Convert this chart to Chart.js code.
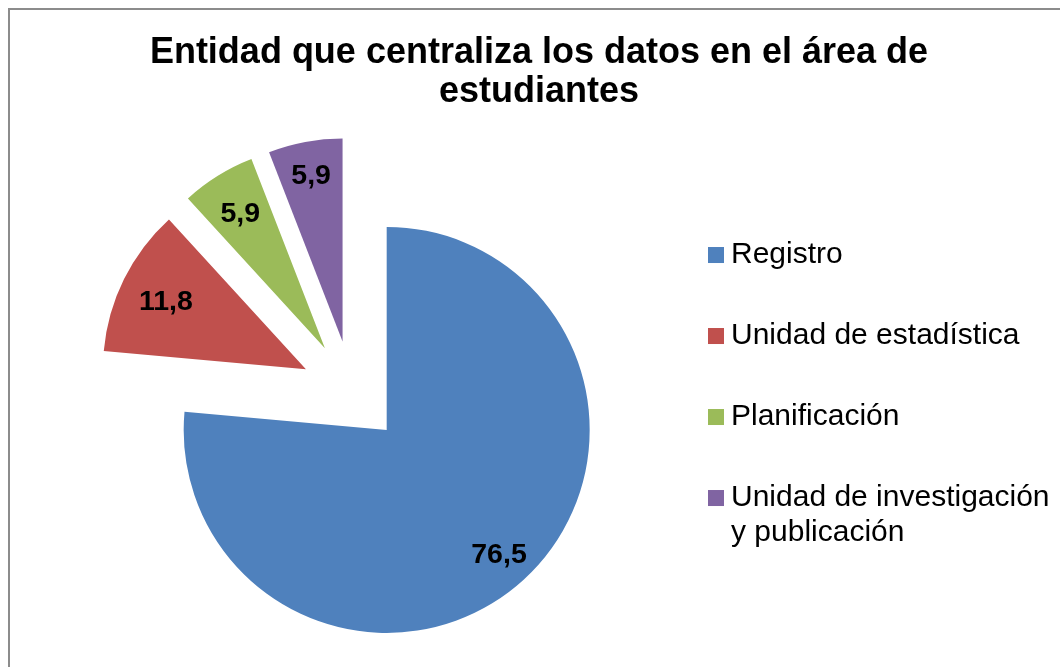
<!DOCTYPE html>
<html>
<head>
<meta charset="utf-8">
<script src="https://cdn.jsdelivr.net/npm/chart.js@4.4.1/dist/chart.umd.min.js"></script>
<style>
html,body{margin:0;padding:0;background:#fff;overflow:hidden;}
#wrap{position:relative;width:1060px;height:667px;overflow:hidden;}
#frame{position:absolute;left:8px;top:8px;width:1200px;height:800px;border:2px solid #8c8c8c;box-sizing:border-box;}
canvas{position:absolute;left:0;top:0;}
</style>
</head>
<body>
<div id="wrap"><div id="frame"></div><canvas id="c" width="1060" height="667"></canvas></div>
<script>
// ---- data ----
const titleLines = ['Entidad que centraliza los datos en el área de', 'estudiantes'];
const categories = ['Registro', 'Unidad de estadística', 'Planificación', 'Unidad de investigación y publicación'];
const values = [76.5, 11.8, 5.9, 5.9];
const colors = ['#4F81BD', '#C0504D', '#9BBB59', '#8064A2'];

// ---- style ----
const FONT = "'Liberation Sans', Arial, Helvetica, sans-serif";
const EXPLODE = 51.4;
const labelFactor = [0.82, 0.77, 0.79, 0.84];
const LEGEND_W = 374;
const LABEL_SIZE = 28.5;

function fmt(v) { return v.toFixed(1).replace('.', ','); }

const explodePlugin = {
  id: 'explode',
  afterDatasetUpdate(chart, args) {
    args.meta.data.forEach(arc => {
      const mid = (arc.startAngle + arc.endAngle) / 2;
      arc.x += Math.cos(mid) * EXPLODE;
      arc.y += Math.sin(mid) * EXPLODE;
    });
  }
};

const labelPlugin = {
  id: 'sliceLabels',
  afterDatasetsDraw(chart) {
    const ctx = chart.ctx;
    const meta = chart.getDatasetMeta(0);
    ctx.save();
    ctx.font = 'bold ' + LABEL_SIZE + 'px ' + FONT;
    ctx.fillStyle = '#000';
    ctx.textAlign = 'center';
    ctx.textBaseline = 'alphabetic';
    meta.data.forEach((arc, i) => {
      const mid = (arc.startAngle + arc.endAngle) / 2;
      const r = arc.outerRadius * labelFactor[i];
      const cx = arc.x + Math.cos(mid) * r;
      const cy = arc.y + Math.sin(mid) * r;
      ctx.fillText(fmt(values[i]), cx, cy + LABEL_SIZE * 0.36);
    });
    ctx.restore();
  }
};

function wrapText(ctx, text, maxW) {
  const words = text.split(' ');
  const lines = [];
  let cur = '';
  words.forEach(w => {
    const test = cur ? cur + ' ' + w : w;
    if (cur && ctx.measureText(test).width > maxW) { lines.push(cur); cur = w; }
    else cur = test;
  });
  if (cur) lines.push(cur);
  return lines;
}

const sideLegendPlugin = {
  id: 'sideLegend',
  beforeInit(chart) {
    const box = {
      position: 'right',
      weight: 0,
      fullSize: false,
      options: { display: true, stackWeight: 1 },
      width: 0, height: 0, left: 0, top: 0, right: 0, bottom: 0,
      isHorizontal() { return false; },
      update(maxWidth, maxHeight) {
        this.width = LEGEND_W;
        this.height = maxHeight;
      },
      draw() {
        const ctx = chart.ctx;
        ctx.save();
        ctx.font = '30px ' + FONT;
        ctx.textAlign = 'left';
        ctx.textBaseline = 'middle';
        categories.forEach((label, i) => {
          const cy = this.top + 66 + i * 81;
          ctx.fillStyle = colors[i];
          ctx.fillRect(this.left + 22, cy - 8, 16, 16);
          ctx.fillStyle = '#000';
          wrapText(ctx, label, 330).forEach((ln, j) => {
            ctx.fillText(ln, this.left + 45, cy + j * 35);
          });
        });
        ctx.restore();
      }
    };
    Chart.layouts.addBox(chart, box);
  }
};

new Chart(document.getElementById('c'), {
  type: 'pie',
  data: {
    labels: categories,
    datasets: [{
      data: values,
      backgroundColor: colors,
      borderWidth: 0,
      offset: 0,
      hoverOffset: 0
    }]
  },
  options: {
    responsive: false,
    animation: false,
    devicePixelRatio: 1,
    events: [],
    layout: { padding: { left: 18, right: 0, top: 0, bottom: 72 } },
    plugins: {
      legend: { display: false },
      tooltip: { enabled: false },
      title: {
        display: true,
        text: titleLines,
        color: '#000',
        font: { family: FONT, size: 36, weight: 'bold', lineHeight: 1.06 },
        padding: { top: 34.4, bottom: 78.3 }
      }
    }
  },
  plugins: [explodePlugin, labelPlugin, sideLegendPlugin]
});
</script>
</body>
</html>
